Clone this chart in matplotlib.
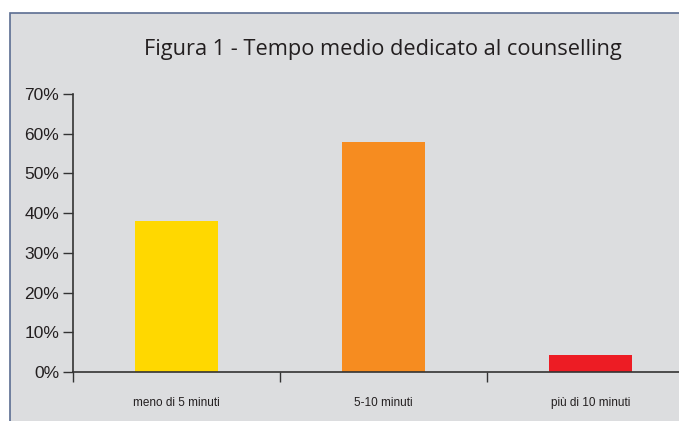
import matplotlib
matplotlib.use("Agg")
import matplotlib.pyplot as plt
from matplotlib.patches import Rectangle
from matplotlib.ticker import FuncFormatter

categories = ["meno di 5 minuti", "5-10 minuti", "più di 10 minuti"]
values = [38, 58, 4.3]
colors = ["#FFD800", "#F68C20", "#ED1C24"]
title = "Figura 1 - Tempo medio dedicato al counselling"

W, H = 679, 421
fig = plt.figure(figsize=(W / 100, H / 100), dpi=100)
fig.patch.set_facecolor("white")

# grey panel with border
panel = Rectangle((9.5 / W, -0.05), 1.2, (H - 13) / H + 0.05, transform=fig.transFigure,
                  facecolor="#DCDDDF", edgecolor="#5B6D91", linewidth=1.2, zorder=-10)
fig.patches.append(panel)

ax = fig.add_axes([73 / W, 49 / H, (694 - 73) / W, (372 - 94) / H])
ax.set_zorder(5)
ax.set_facecolor("none")
x = range(len(categories))
ax.bar([i + 0.5 for i in x], values, width=0.4, color=colors, zorder=2)
ax.set_xlim(0, 3)
ax.set_ylim(0, 70)
ax.set_yticks(range(0, 71, 10))
ax.yaxis.set_major_formatter(FuncFormatter(lambda v, p: f"{int(v)}%"))
ax.set_xticks([0, 1, 2, 3])
ax.set_xticklabels([])
ax.set_xticks([i + 0.5 for i in x], minor=True)
ax.set_xticklabels(categories, minor=True, fontsize=8.5, family="Liberation Sans", color="#231F20")
ax.tick_params(axis="x", which="minor", length=0, pad=18)
ax.tick_params(axis="x", which="major", length=7, direction="out", width=1, color="#333333")
ax.tick_params(axis="y", length=7, width=1, color="#333333", labelsize=12.5, pad=3, labelcolor="#231F20")
for lab in ax.get_yticklabels():
    lab.set_family("Liberation Sans")
for s in ["top", "right"]:
    ax.spines[s].set_visible(False)
for s in ["left", "bottom"]:
    ax.spines[s].set_color("#333333")
    ax.spines[s].set_linewidth(1.2)

fig.text(383 / W, 1 - 50 / H, title, ha="center", va="center", fontsize=15.7,
         family="Open Sans", color="#231F20")

fig.savefig("out.png", dpi=100)
